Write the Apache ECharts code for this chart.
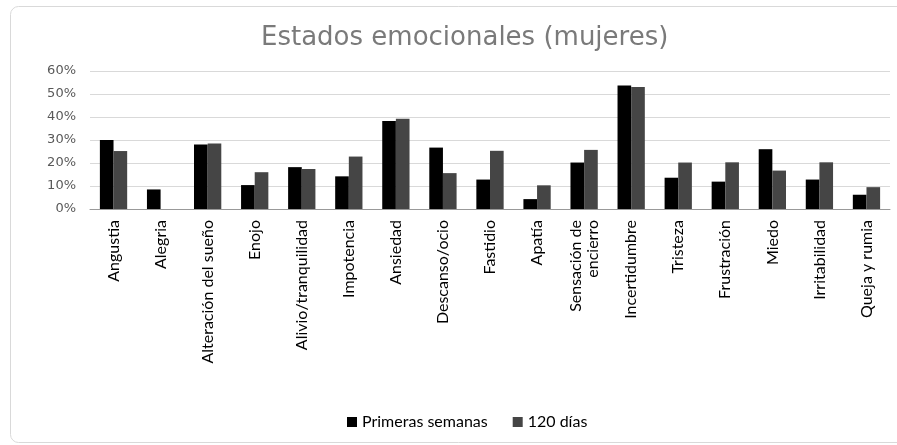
<!DOCTYPE html>
<html>
<head>
<meta charset="utf-8">
<script src="https://cdn.jsdelivr.net/npm/echarts@6/dist/echarts.min.js"></script>
<style>
  html, body { margin: 0; padding: 0; background: #fff; }
  #chart { width: 897px; height: 445px; }
</style>
</head>
<body>
<div id="chart"></div>
<script>
  // categorias y valores (%)
  var categorias = ['Angustia', 'Alegria', 'Alteración del sueño', 'Enojo', 'Alivio/tranquilidad',
    'Impotencia', 'Ansiedad', 'Descanso/ocio', 'Fastidio', 'Apatía', 'Sensación de\nencierro',
    'Incertidumbre', 'Tristeza', 'Frustración', 'Miedo', 'Irritabilidad', 'Queja y rumia'];
  var primerasSemanas = [30, 8.5, 28, 10.4, 18.2, 14.2, 38.3, 26.7, 12.8, 4.3, 20.2, 53.7, 13.6, 11.9, 26, 12.8, 6.2];
  var dias120 = [25.2, 0, 28.5, 16, 17.4, 22.8, 39.2, 15.6, 25.3, 10.3, 25.7, 53, 20.2, 20.3, 16.7, 20.3, 9.5];
  var ticksY = [0, 10, 20, 30, 40, 50, 60];

  var chart = echarts.init(document.getElementById('chart'));
  var option = {
    animation: false,
    graphic: [{
      type: 'rect',
      shape: { x: 10.5, y: 6.5, width: 900, height: 436, r: 8 },
      style: { fill: 'none', stroke: '#d9d9d9', lineWidth: 1 }
    }],
    title: {
      text: 'Estados emocionales (mujeres)',
      left: 256,
      top: 20,
      textStyle: {
        color: '#7a7a7a',
        fontSize: 26,
        fontWeight: 'normal',
        fontFamily: 'DejaVu Sans'
      }
    },
    legend: {
      bottom: 10,
      left: 342,
      itemWidth: 10,
      itemHeight: 10,
      itemGap: 25,
      icon: 'rect',
      textStyle: { color: '#000', fontSize: 16, fontFamily: 'Lato' },
      data: ['Primeras semanas', '120 días']
    },
    grid: {
      left: 90,
      right: 7,
      top: 71,
      bottom: 236,
      containLabel: false
    },
    xAxis: {
      type: 'category',
      data: categorias,
      axisTick: { show: false },
      axisLine: { lineStyle: { color: '#999' } },
      axisLabel: {
        rotate: 90,
        interval: 0,
        color: '#000',
        fontSize: 16,
        fontFamily: 'Lato',
        lineHeight: 17,
        margin: 11
      }
    },
    yAxis: {
      type: 'value',
      min: 0,
      max: 60,
      interval: 10,
      axisLine: { show: false },
      axisTick: { show: false },
      splitLine: { lineStyle: { color: '#d9d9d9' } },
      axisLabel: {
        color: '#595959',
        fontSize: 13,
        fontFamily: 'DejaVu Sans',
        margin: 14,
        formatter: function (v) { return ticksY.indexOf(v) >= 0 ? v + '%' : ''; }
      }
    },
    series: [
      {
        name: 'Primeras semanas',
        type: 'bar',
        data: primerasSemanas,
        itemStyle: { color: '#000' },
        barGap: '0%',
        barCategoryGap: '42%'
      },
      {
        name: '120 días',
        type: 'bar',
        data: dias120,
        itemStyle: { color: '#454545' },
        barGap: '0%',
        barCategoryGap: '42%'
      }
    ]
  };
  chart.setOption(option);
  window.addEventListener('resize', function () {
    chart.resize();
  });
</script>
</body>
</html>
